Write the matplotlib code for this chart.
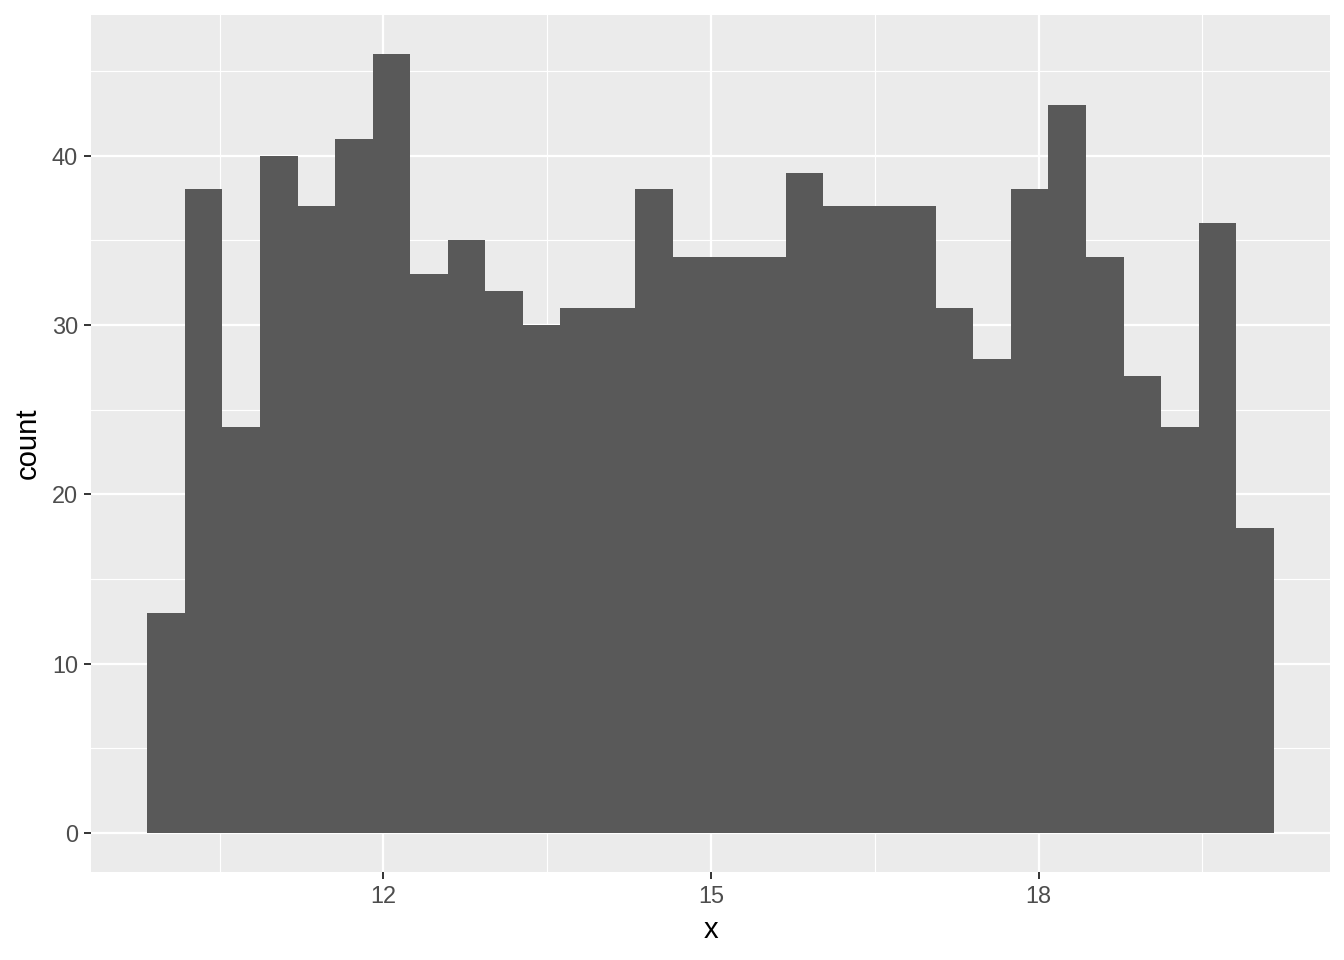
import numpy as np
import matplotlib
matplotlib.use("Agg")
import matplotlib.pyplot as plt

plt.rcParams['font.family'] = ['Liberation Sans', 'DejaVu Sans']

# Data (30 bins)
data_min = 10.01
data_max = 19.98
counts = [13, 38, 24, 40, 37, 41, 46, 33, 35, 32, 30, 31, 31, 38, 34,
          34, 34, 39, 37, 37, 37, 31, 28, 38, 43, 34, 27, 24, 36, 18]
x_ticks = [12, 15, 18]
y_ticks = [0, 10, 20, 30, 40]

nbins = len(counts)
w = (data_max - data_min) / (nbins - 1)
edges = data_min - w / 2 + w * np.arange(nbins + 1)

fig = plt.figure(figsize=(13.44, 9.6), dpi=100)
ax = fig.add_axes([91 / 1344, (960 - 872) / 960, (1330 - 91) / 1344, (872 - 15) / 960])
ax.set_facecolor('#EBEBEB')

ax.stairs(counts, edges, fill=True, color='#595959', linewidth=0, zorder=3)

xr = edges[-1] - edges[0]
ax.set_xlim(edges[0] - 0.05 * xr, edges[-1] + 0.05 * xr)
ymax = max(counts)
ax.set_ylim(-0.05 * ymax, ymax * 1.05)

ax.set_xticks(x_ticks)
ax.set_yticks(y_ticks)
ax.set_xticks([10.5, 13.5, 16.5, 19.5], minor=True)
ax.set_yticks([5, 15, 25, 35, 45], minor=True)

ax.grid(which='major', color='white', linewidth=1.6, zorder=0)
ax.grid(which='minor', color='white', linewidth=0.8, zorder=0)
ax.set_axisbelow(True)

for s in ax.spines.values():
    s.set_visible(False)

ax.tick_params(which='major', length=5.3, width=1.4, color='#333333',
               labelcolor='#4D4D4D', labelsize=16.9, pad=4)
ax.tick_params(which='minor', length=0)

ax.set_xlabel('x', fontsize=21.1, color='black', labelpad=6)
ax.set_ylabel('count', fontsize=21.1, color='black', labelpad=7)

fig.savefig('out.png', dpi=100, facecolor='white')
